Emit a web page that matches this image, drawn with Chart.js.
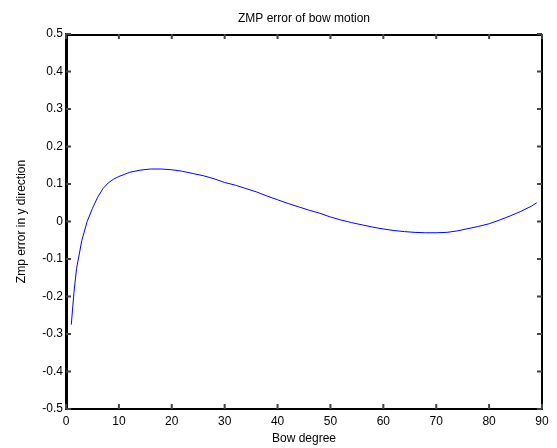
<!DOCTYPE html>
<html>
<head>
<meta charset="utf-8">
<script src="https://cdn.jsdelivr.net/npm/chart.js@4.4.0/dist/chart.umd.min.js"></script>
<style>
  html, body { margin: 0; padding: 0; background: #fff; }
  canvas { display: block; }
</style>
</head>
<body>
<canvas id="grafica" width="557" height="448"></canvas>
<script>
// --- Datos ---
const bowDegree = [1, 1.5, 2, 3, 4, 5, 6, 7, 8, 9, 10, 12, 14, 16, 18, 20, 22, 24, 26, 28, 30,
  32, 34, 36, 38, 40, 42, 44, 46, 48, 50, 52, 54, 56, 58, 60, 62, 64, 66, 68, 70,
  72, 74, 76, 78, 80, 82, 84, 86, 88, 89];
const zmpError = [-0.275, -0.19, -0.125, -0.05, 0.0, 0.035, 0.065, 0.088, 0.103, 0.113, 0.12,
  0.131, 0.137, 0.14, 0.14, 0.138, 0.134, 0.128, 0.122, 0.114, 0.104,
  0.097, 0.088, 0.079, 0.068, 0.058, 0.048, 0.039, 0.03, 0.022, 0.012,
  0.004, -0.003, -0.009, -0.015, -0.02, -0.024, -0.027, -0.029, -0.03, -0.03,
  -0.029, -0.025, -0.019, -0.013, -0.006, 0.004, 0.015, 0.027, 0.041, 0.05];
const xTicks = [0, 10, 20, 30, 40, 50, 60, 70, 80, 90];
const yTicks = [-0.5, -0.4, -0.3, -0.2, -0.1, 0, 0.1, 0.2, 0.3, 0.4, 0.5];

const chartTitle = 'ZMP error of bow motion';
const xLabel = 'Bow degree';
const yLabel = 'Zmp error in y direction';

const FONT = "'Liberation Sans', Arial, Helvetica, sans-serif";

// --- Caja, marcas hacia adentro y titulo (estilo MATLAB) ---
const cajaMatlab = {
  id: 'cajaMatlab',
  afterDraw(chart) {
    const { ctx, chartArea: a, scales } = chart;
    const tl = 5;
    const w = a.right - a.left, h = a.bottom - a.top;
    ctx.save();
    // caja
    ctx.fillStyle = '#000';
    ctx.fillRect(a.left, a.top, w, 2);
    ctx.fillRect(a.left, a.top, 2, h);
    ctx.fillRect(a.left, a.bottom - 1, w, 2);
    ctx.fillRect(a.right - 1, a.top, 2, h + 1);
    // marcas
    ctx.fillStyle = '#444';
    for (const v of xTicks) {
      const px = scales.x.getPixelForValue(v);
      ctx.fillRect(px - 1, a.bottom - tl, 2, tl);
      ctx.fillRect(px - 1, a.top, 2, tl);
    }
    for (const v of yTicks) {
      const py = scales.y.getPixelForValue(v);
      ctx.fillRect(a.left, py - 1, tl, 2);
      ctx.fillRect(a.right - tl, py - 1, tl, 2);
    }
    // titulo
    ctx.fillStyle = '#000';
    ctx.font = '12px ' + FONT;
    ctx.textAlign = 'center';
    ctx.textBaseline = 'middle';
    ctx.fillText(chartTitle, (a.left + a.right) / 2, 18.5);
    ctx.restore();
  }
};

new Chart(document.getElementById('grafica'), {
  type: 'line',
  data: {
    datasets: [{
      data: bowDegree.map((x, i) => ({ x: x, y: zmpError[i] })),
      borderColor: '#0000ff',
      borderWidth: 1,
      pointRadius: 0
    }]
  },
  options: {
    responsive: false,
    animation: false,
    layout: { padding: { top: 34, right: 15, left: 0, bottom: 0 } },
    plugins: { legend: { display: false } },
    scales: {
      x: {
        type: 'linear',
        min: 0, max: 90,
        afterBuildTicks: s => { s.ticks = xTicks.map(v => ({ value: v })); },
        afterFit: s => { s.height = 39; },
        grid: { display: false, drawTicks: false },
        border: { display: true, color: '#000', width: 1.5 },
        ticks: { color: '#000', font: { family: FONT, size: 12 }, padding: 5, maxRotation: 0, autoSkip: false },
        title: { display: true, text: xLabel, color: '#000', font: { family: FONT, size: 12 }, padding: { top: 0, bottom: 2 } }
      },
      y: {
        type: 'linear',
        min: -0.5, max: 0.5,
        afterBuildTicks: s => { s.ticks = yTicks.map(v => ({ value: v })); },
        afterFit: s => { s.width = 66; },
        grid: { display: false, drawTicks: false },
        border: { display: true, color: '#000', width: 1.5 },
        ticks: { color: '#000', font: { family: FONT, size: 12 }, padding: 3, autoSkip: false },
        title: { display: true, text: yLabel, color: '#000', font: { family: FONT, size: 12 }, padding: { top: 14, bottom: 0 } }
      }
    }
  },
  plugins: [cajaMatlab]
});
</script>
</body>
</html>
